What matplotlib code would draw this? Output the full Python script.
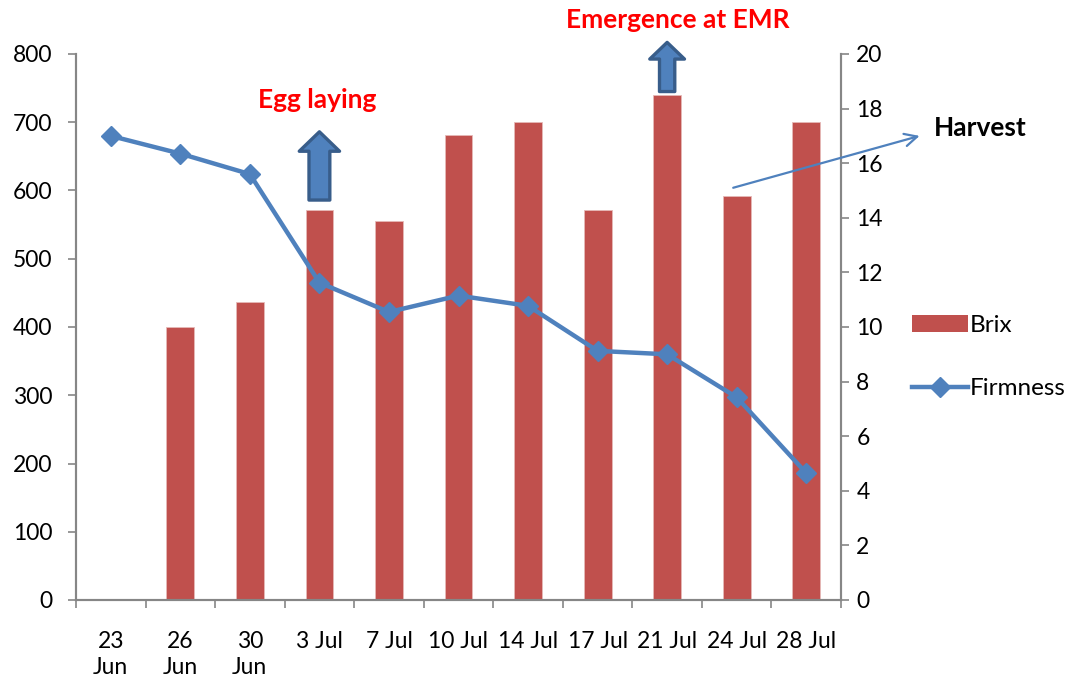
import numpy as np
import matplotlib
matplotlib.use("Agg")
import matplotlib.pyplot as plt
from matplotlib.patches import Patch
from matplotlib.lines import Line2D

plt.rcParams['font.family'] = ['Lato', 'DejaVu Sans']

# data
dates = ["23\nJun", "26\nJun", "30\nJun", "3 Jul", "7 Jul", "10 Jul",
         "14 Jul", "17 Jul", "21 Jul", "24 Jul", "28 Jul"]
brix = [np.nan, 10.0, 10.9, 14.3, 13.9, 17.05, 17.5, 14.3, 18.5, 14.8, 17.5]
firmness = [680, 654, 624, 465, 422, 446, 431, 365, 360, 297, 186]

bar_col = '#C0504D'
line_col = '#4F81BD'
axis_col = '#868686'
fs = 16.5
fs_note = 19

fig = plt.figure(figsize=(10.78, 6.84), dpi=100)
ax = fig.add_axes([76 / 1078, 1 - 600 / 684, (841 - 76) / 1078, (600 - 54) / 684])
ax2 = ax.twinx()

x = np.arange(len(dates))

# Brix bars on the right axis, firmness line on the left, line drawn on top
ax2.bar(x, brix, width=0.4, color=bar_col, edgecolor='#E6B9B8', linewidth=0.6)
ax.set_zorder(ax2.get_zorder() + 1)
ax.patch.set_visible(False)
ax.plot(x, firmness, color=line_col, lw=3.2, marker='D', ms=10, zorder=3)

ax.set_xlim(-0.5, len(dates) - 0.5)
ax.set_ylim(0, 800)
ax2.set_ylim(0, 20)
ax.set_yticks(np.arange(0, 801, 100))
ax2.set_yticks(np.arange(0, 21, 2))

ax.set_xticks(x)
ax.set_xticklabels(dates, fontsize=fs, linespacing=1.3)
ax.set_xticks(np.arange(-0.5, len(dates), 1), minor=True)
ax.tick_params(axis='x', which='major', length=0, pad=22)
ax.tick_params(axis='x', which='minor', length=6, width=1.2, color=axis_col, direction='out')
ax.tick_params(axis='y', labelsize=fs, length=6, width=1.2, color=axis_col, pad=11)
ax2.tick_params(axis='y', labelsize=fs, length=6, width=1.2, color=axis_col, pad=5)
ax2.tick_params(axis='x', length=0)

for a in (ax, ax2):
    a.spines['top'].set_visible(False)
    for s in ('left', 'right', 'bottom'):
        a.spines[s].set_color(axis_col)
        a.spines[s].set_linewidth(1.5)

# annotations
ax.annotate('', xy=(3, 686), xytext=(3, 586),
            arrowprops=dict(arrowstyle='simple,head_length=14,head_width=29,tail_width=15',
                            mutation_scale=1, fc=line_col, ec='#385D8A', lw=2.4,
                            shrinkA=0, shrinkB=0), annotation_clip=False)
ax.text(2.97, 732, 'Egg laying', color='#FF0000', fontsize=fs_note, fontweight='bold',
        ha='center', va='center')

ax.annotate('', xy=(8, 817), xytext=(8, 745),
            arrowprops=dict(arrowstyle='simple,head_length=12,head_width=25,tail_width=11',
                            mutation_scale=1, fc=line_col, ec='#385D8A', lw=2.4,
                            shrinkA=0, shrinkB=0), annotation_clip=False)
ax.text(8.15, 850, 'Emergence at EMR', color='#FF0000', fontsize=fs_note, fontweight='bold',
        ha='center', va='center', clip_on=False)

ax.annotate('', xy=(11.63, 680), xytext=(8.95, 604),
            arrowprops=dict(arrowstyle='->,head_length=0.9,head_width=0.45',
                            color=line_col, lw=1.6, shrinkA=0, shrinkB=0),
            annotation_clip=False)
ax.text(11.83, 692, 'Harvest', color='black', fontsize=fs_note, fontweight='bold',
        ha='left', va='center', clip_on=False)

handles = [Patch(facecolor=bar_col, edgecolor='none'),
           Line2D([], [], color=line_col, lw=3.2, marker='D', ms=10)]
fig.legend(handles, ['Brix', 'Firmness'], loc='center left',
           bbox_to_anchor=(890 / 1078, 1 - 357 / 684), frameon=False,
           fontsize=17.5, handlelength=2.3, labelspacing=1.75, handletextpad=0.1)

fig.savefig('out.png', dpi=100)
